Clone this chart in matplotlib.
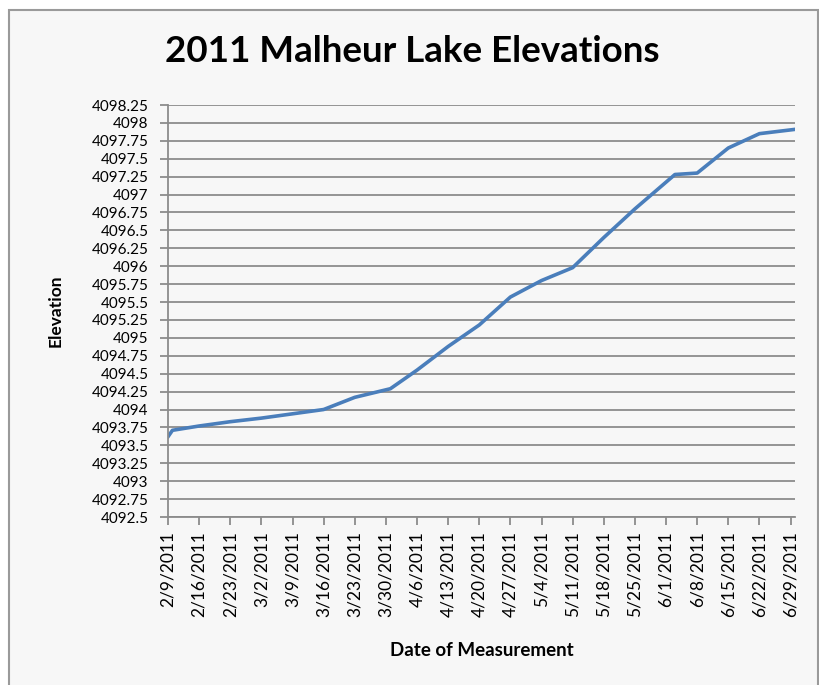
import matplotlib
matplotlib.use('Agg')
import matplotlib.pyplot as plt
from matplotlib.patches import Rectangle
import numpy as np
import datetime as dt

# measurement dates (2011) and lake elevation in feet
dates = ['2011-02-09', '2011-02-10', '2011-02-16', '2011-02-23', '2011-03-02',
         '2011-03-09', '2011-03-16', '2011-03-23', '2011-03-31', '2011-04-06',
         '2011-04-13', '2011-04-20', '2011-04-27', '2011-05-04', '2011-05-11',
         '2011-05-18', '2011-05-25', '2011-06-03', '2011-06-08', '2011-06-15',
         '2011-06-22', '2011-06-30']
elevation = [4093.62, 4093.71, 4093.77, 4093.83, 4093.88,
             4093.94, 4094.00, 4094.17, 4094.29, 4094.55,
             4094.88, 4095.18, 4095.57, 4095.80, 4095.98,
             4096.40, 4096.80, 4097.28, 4097.30, 4097.65,
             4097.85, 4097.91]

y_ticks = np.arange(4092.5, 4098.26, 0.25)
y_tick_labels = ['%g' % v for v in y_ticks]

title = '2011 Malheur Lake Elevations'
x_title = 'Date of Measurement'
y_title = 'Elevation'

plt.rcParams['font.family'] = ['Lato', 'DejaVu Sans']

x = [dt.datetime.strptime(d, '%Y-%m-%d') for d in dates]
x_ticks = [x[0] + dt.timedelta(days=7 * i) for i in range(21)]

fig = plt.figure(figsize=(8.2, 6.85), dpi=100, facecolor='white')
frame = Rectangle((9 / 820, -0.01), 809 / 820, 1 - 10 / 685 + 0.01,
                  transform=fig.transFigure, facecolor='#f7f7f7',
                  edgecolor='#9a9a9a', linewidth=1.5, zorder=-10)
fig.patches.append(frame)

ax = fig.add_axes([168 / 820, 1 - 517 / 685, 627 / 820, 412 / 685])
ax.set_facecolor('#f7f7f7')

ax.plot(x, elevation, color='#4a7ebb', linewidth=2.6, solid_joinstyle='round')

ax.set_ylim(4092.5, 4098.25)
ax.set_yticks(y_ticks)
ax.set_yticklabels(y_tick_labels)
ax.set_xlim(x[0], x[-1])
ax.set_xticks(x_ticks)
ax.set_xticklabels(['%d/%d/%d' % (t.month, t.day, t.year) for t in x_ticks],
                   rotation=90)

ax.grid(axis='y', color='#8c8c8c', linewidth=1.3)
ax.set_axisbelow(True)
for s in ['top', 'right']:
    ax.spines[s].set_visible(False)
for s in ['left', 'bottom']:
    ax.spines[s].set_color('#8c8c8c')
    ax.spines[s].set_linewidth(1.3)
ax.tick_params(axis='both', color='#8c8c8c', width=1.3, length=6,
               labelcolor='black')
ax.tick_params(axis='y', labelsize=11, pad=8)
ax.tick_params(axis='x', labelsize=12.5, pad=4)

fig.text(0.503, 1 - 52 / 685, title, ha='center', va='center',
         fontsize=26.5, fontweight='bold')
ax.set_xlabel(x_title, fontsize=13.5, fontweight='bold', labelpad=18)
ax.set_ylabel(y_title, fontsize=12.5, fontweight='bold', labelpad=20)

fig.savefig('out.png', dpi=100, facecolor='white')
